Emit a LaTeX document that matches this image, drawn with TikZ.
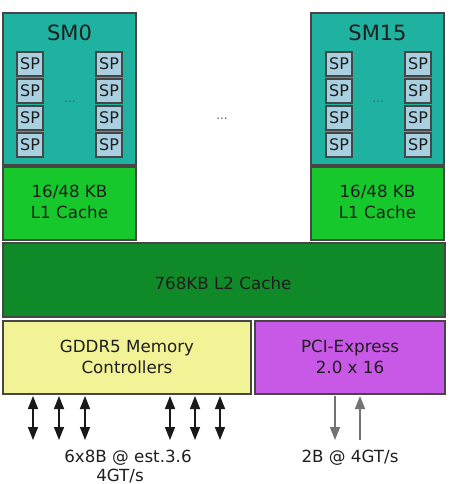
\documentclass[tikz,border=0pt]{standalone}
\usepackage{fontspec}
\setmainfont{DejaVu Sans}
\usetikzlibrary{arrows.meta}
\definecolor{smteal}{RGB}{32,178,160}
\definecolor{spblue}{RGB}{168,208,224}
\definecolor{lonegreen}{RGB}{22,200,44}
\definecolor{ltwogreen}{RGB}{16,138,40}
\definecolor{memyellow}{RGB}{242,242,150}
\definecolor{pcipurple}{RGB}{200,88,230}
\definecolor{edgegray}{RGB}{70,70,70}
\definecolor{txt}{RGB}{30,30,30}
\tikzset{
  unit/.style={draw=edgegray, line width=1.5pt, anchor=north west, inner sep=0pt, outer sep=0pt},
  smbox/.style={unit, fill=smteal, minimum width=133pt, minimum height=152pt},
  lonebox/.style={unit, fill=lonegreen, minimum width=133pt, minimum height=73pt},
  spbox/.style={unit, fill=spblue, line width=1.3pt, minimum width=26pt, minimum height=24pt,
    font=\fontsize{16}{16}\selectfont, text=txt},
  lbl/.style={font=\fontsize{16.7}{21}\selectfont, text=txt, align=center, inner sep=0pt},
  title/.style={font=\fontsize{21}{21}\selectfont, text=txt, inner sep=0pt},
  dots/.style={font=\fontsize{12}{12}\selectfont, text=black!65, inner sep=0pt},
  membus/.style={line width=1.5pt, draw=black!90, {Triangle[width=10pt,length=13pt]}-{Triangle[width=10pt,length=13pt]}},
  pcibus/.style={line width=1.5pt, draw=black!55, -{Triangle[width=10pt,length=13pt]}}
}
\begin{document}
\begin{tikzpicture}[x=1pt,y=-1pt]
\useasboundingbox (0,0) rectangle (451,484);

% streaming multiprocessors with their L1 caches
\node[smbox] (sm0) at (3,13) {};
\node[lonebox] (l1a) at (3,167) {};
\node[smbox] (sm15) at (311,13) {};
\node[lonebox] (l1b) at (311,167) {};

\node[title] (sm0t) at (69.5,33) {SM0};
\node[title] (sm15t) at (377.5,33) {SM15};

% scalar processors, four rows of two columns in each SM
\foreach \r [count=\i] in {52,79,106,133} {
  \node[spbox] (spa\i) at (17,\r) {SP};
  \node[spbox] (spb\i) at (96,\r) {SP};
  \node[spbox] (spc\i) at (326,\r) {SP};
  \node[spbox] (spd\i) at (405,\r) {SP};
}
\node[dots] (sm0dots) at (70,102) {...};
\node[dots] (sm15dots) at (378,102) {...};
\node[dots] (middots) at (222,119) {...};

\node[lbl] (l1at) at (69.5,202) {16/48 KB\\L1 Cache};
\node[lbl] (l1bt) at (377.5,202) {16/48 KB\\L1 Cache};

% shared L2 cache
\node[unit, fill=ltwogreen, minimum width=442pt, minimum height=74pt] (l2) at (3,243) {};
\node[lbl] (l2t) at (223,283) {768KB L2 Cache};

% memory controllers and host interface
\node[unit, fill=memyellow, minimum width=248pt, minimum height=73pt] (mem) at (3,321) {};
\node[lbl] (memt) at (127,357) {GDDR5 Memory\\Controllers};
\node[unit, fill=pcipurple, minimum width=190pt, minimum height=73pt] (pci) at (255,321) {};
\node[lbl] (pcit) at (350,357) {PCI-Express\\2.0 x 16};

% DRAM channels
\foreach \x [count=\i] in {33,59,85,170,195,220} {
  \coordinate (mt\i) at (\x,396);
  \coordinate (mb\i) at (\x,440);
  \draw[membus] (mt\i) -- (mb\i);
}
% PCIe lanes
\coordinate (pdt) at (335,396);
\coordinate (pdb) at (335,440);
\coordinate (put) at (360,396);
\coordinate (pub) at (360,440);
\draw[pcibus] (pdt) -- (pdb);
\draw[pcibus] (pub) -- (put);

\node[lbl] (memlbl) at (128,458) {6x8B @ est.3.6};
\node[lbl] (memlbl2) at (120,476) {4GT/s};
\node[lbl] (pcilbl) at (350,458) {2B @ 4GT/s};
\end{tikzpicture}
\end{document}
